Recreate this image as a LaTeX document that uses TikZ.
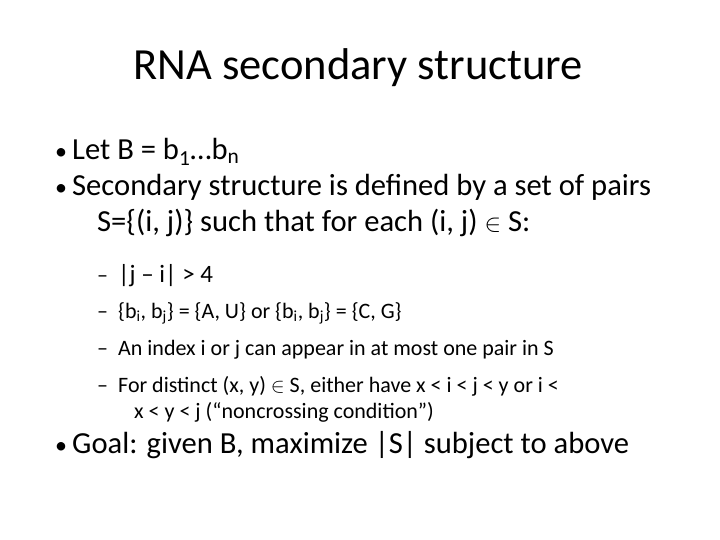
\documentclass[tikz,border=0pt]{standalone}
\usepackage{fontspec}
\setmainfont{Carlito}
\begin{document}
\begin{tikzpicture}[x=1pt,y=-1pt,
 big/.style={anchor=base west,inner sep=0pt,font=\fontsize{30.6}{34}\selectfont},
 bul/.style={anchor=base west,inner sep=0pt,font=\fontsize{24}{28}\selectfont},
 small/.style={anchor=base west,inner sep=0pt,font=\fontsize{22}{26}\selectfont}]
\useasboundingbox (0,0) rectangle (720,540);
\node[anchor=base,inner sep=0pt,font=\fontsize{44.5}{48}\selectfont] (title) at (358,80) {RNA secondary structure};
\node[bul] (b1) at (55,160) {•};
\node[big] (t1) at (72,160) {Let B = b\textsubscript{1}…b\textsubscript{n}};
\node[bul] (b2) at (55,196) {•};
\node[big] (t2) at (72,196) {Secondary structure is defined by a set of pairs};
\node[big] (t2b) at (97,232) {S=\{(i, j)\} such that for each (i, j) $\in$ S:};
\node[small] (d1) at (97,282) {–};
\node[small,font=\fontsize{25}{28}\selectfont] (s1) at (118,282) {|j – i| > 4};
\node[small] (d2) at (97,318) {–};
\node[small] (s2) at (118,318) {\{b\textsubscript{i}, b\textsubscript{j}\} = \{A, U\} or \{b\textsubscript{i}, b\textsubscript{j}\} = \{C, G\}};
\node[small] (d3) at (97,355) {–};
\node[small] (s3) at (118,355) {An index i or j can appear in at most one pair in S};
\node[small] (d4) at (97,392) {–};
\node[small] (s4) at (118,392) {For distinct (x, y) $\in$ S, either have x < i < j < y or i <};
\node[small] (s4b) at (134,418) {x < y < j (“noncrossing condition”)};
\node[bul] (b3) at (55,453) {•};
\node[big] (t3) at (72,453) {Goal: given B, maximize |S| subject to above};
\end{tikzpicture}
\end{document}
